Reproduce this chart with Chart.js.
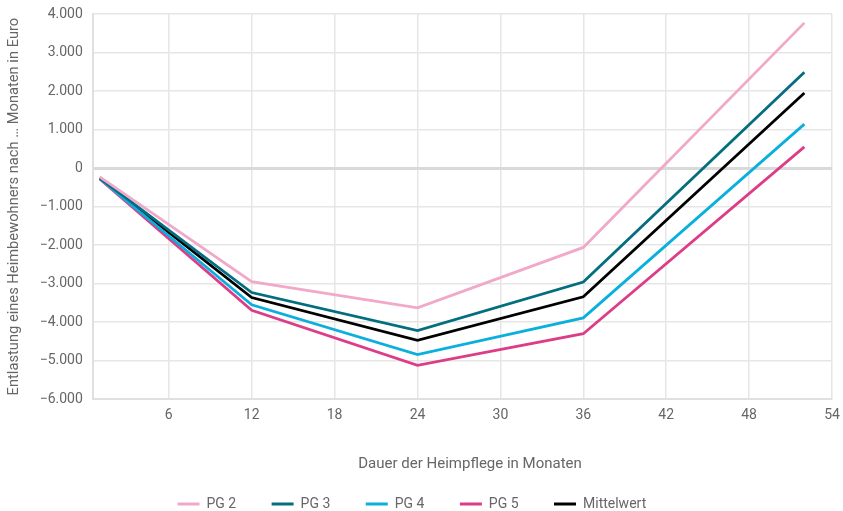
<!DOCTYPE html>
<html lang="de">
<head>
<meta charset="utf-8">
<script src="https://cdn.jsdelivr.net/npm/chart.js@4/dist/chart.umd.min.js"></script>
<style>
  html, body { margin: 0; padding: 0; background: #fff; }
  #wrap { width: 843px; height: 511px; }
</style>
</head>
<body>
<div id="wrap"><canvas id="grafico"></canvas></div>
<script>
// Monate
const monate = [1, 12, 24, 36, 52];

// Entlastung je Pflegegrad (Euro)
const pg2 = [-230, -2950, -3630, -2060, 3770];
const pg3 = [-260, -3230, -4220, -2960, 2490];
const pg4 = [-270, -3550, -4840, -3890, 1140];
const pg5 = [-280, -3690, -5120, -4300, 550];
const mittelwert = [-260, -3360, -4470, -3340, 1950];

const xTicks = [6, 12, 18, 24, 30, 36, 42, 48, 54];

const serien = [
  { label: "PG 2", werte: pg2, farbe: "#f0a9c9" },
  { label: "PG 3", werte: pg3, farbe: "#036e7f" },
  { label: "PG 4", werte: pg4, farbe: "#0ab0dd" },
  { label: "PG 5", werte: pg5, farbe: "#dd3d87" },
  { label: "Mittelwert", werte: mittelwert, farbe: "#000000" }
];

const schrift = "Roboto, sans-serif";
const grau = "#666";

function formatar(v) {
  return v.toLocaleString("de-DE").replace("-", "\u2212");
}

new Chart(document.getElementById("grafico"), {
  type: "line",
  data: {
    datasets: serien.map(s => ({
      label: s.label,
      data: monate.map((m, i) => ({ x: m, y: s.werte[i] })),
      borderColor: s.farbe,
      backgroundColor: s.farbe,
      borderWidth: 2.8,
      pointRadius: 0,
      tension: 0
    }))
  },
  options: {
    responsive: true,
    maintainAspectRatio: false,
    animation: false,
    layout: { padding: { top: 14, right: 11, left: 6, bottom: -10 } },
    plugins: {
      legend: {
        position: "bottom",
        labels: {
          boxWidth: 22,
          boxHeight: 3,
          padding: 4,
          color: grau,
          font: { family: schrift, size: 14 },
          // espaço extra entre os itens
          generateLabels: chart => {
            const itens = Chart.defaults.plugins.legend.labels.generateLabels(chart);
            itens.forEach((it, i) => {
              it.lineWidth = 0;
              it.text = it.text + (i < itens.length - 1 ? "\u2003\u2003\u2009" : "\u2003");
            });
            return itens;
          }
        }
      },
      tooltip: { enabled: false }
    },
    scales: {
      x: {
        type: "linear",
        min: 0.5,
        max: 54,
        afterBuildTicks: axis => {
          axis.ticks = xTicks.map(v => ({ value: v }));
        },
        // o rótulo "54" pode sair da área
        afterFit: axis => {
          axis.paddingRight = 0;
        },
        grid: { color: "#e6e6e6", lineWidth: 1.5, drawTicks: false },
        border: { color: "#e0e0e0", width: 2 },
        ticks: {
          color: grau,
          padding: 8,
          maxRotation: 0,
          font: { family: schrift, size: 14 }
        },
        title: {
          display: true,
          text: "\u2003Dauer der Heimpflege in Monaten",
          color: grau,
          padding: { top: 23, bottom: 20 },
          font: { family: schrift, size: 15 }
        }
      },
      y: {
        min: -6000,
        max: 4000,
        afterFit: axis => {
          axis.paddingTop = 0;
        },
        ticks: {
          stepSize: 1000,
          color: grau,
          padding: 10,
          font: { family: schrift, size: 14 },
          callback: v => formatar(v)
        },
        grid: {
          color: ctx => ctx.tick && ctx.tick.value === 0 ? "#d9d9d9" : "#e6e6e6",
          lineWidth: ctx => ctx.tick && ctx.tick.value === 0 ? 3 : 1.5,
          drawTicks: false
        },
        border: { color: "#e0e0e0", width: 2 },
        title: {
          display: true,
          text: "Entlastung eines Heimbewohners nach \u2026 Monaten in Euro",
          color: grau,
          padding: { top: 0, bottom: 6 },
          font: { family: schrift, size: 14.7 }
        }
      }
    }
  }
});
</script>
</body>
</html>
